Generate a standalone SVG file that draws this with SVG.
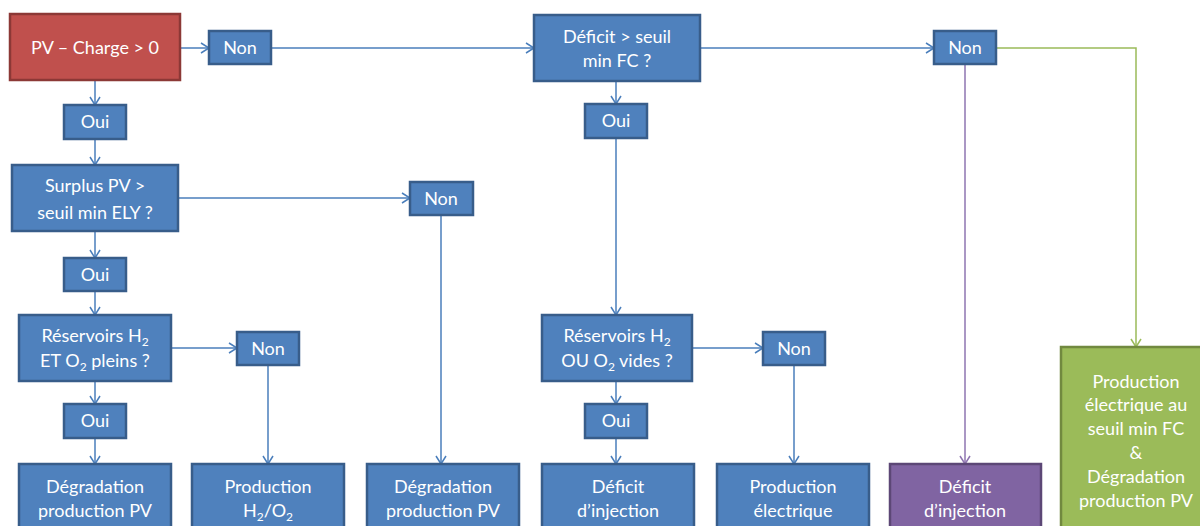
<svg xmlns="http://www.w3.org/2000/svg" width="1200" height="526" viewBox="0 0 1200 526">
<style>
.b{fill:#4F81BD;stroke:#385D8A;stroke-width:2.5}
.r{fill:#C0504D;stroke:#8C3836;stroke-width:2.5}
.p{fill:#8064A2;stroke:#5C4776;stroke-width:2.5}
.g{fill:#9BBB59;stroke:#71893F;stroke-width:2.5}
text{font-family:"Lato","Liberation Sans",sans-serif;font-size:18px;fill:#FFFFFF;text-anchor:middle}
.cb{fill:none;stroke:#4A7EBB;stroke-width:1.5}
.cp{fill:none;stroke:#8E74B0;stroke-width:1.5}
.cg{fill:none;stroke:#9BBB59;stroke-width:1.5}
</style>
<defs>
<marker id="ab" viewBox="0 0 10 12" refX="9" refY="6" markerWidth="10" markerHeight="12" markerUnits="userSpaceOnUse" orient="auto"><path d="M1,1 L9,6 L1,11" fill="none" stroke="#4A7EBB" stroke-width="1.5"/></marker>
<marker id="ap" viewBox="0 0 10 12" refX="9" refY="6" markerWidth="10" markerHeight="12" markerUnits="userSpaceOnUse" orient="auto"><path d="M1,1 L9,6 L1,11" fill="none" stroke="#8E74B0" stroke-width="1.5"/></marker>
<marker id="ag" viewBox="0 0 10 12" refX="9" refY="6" markerWidth="10" markerHeight="12" markerUnits="userSpaceOnUse" orient="auto"><path d="M1,1 L9,6 L1,11" fill="none" stroke="#9BBB59" stroke-width="1.5"/></marker>
</defs>
<g id="connectors">
<path class="cb" marker-end="url(#ab)" d="M95,80 V105"/>
<path class="cb" marker-end="url(#ab)" d="M180,48 H209"/>
<path class="cb" marker-end="url(#ab)" d="M95,139 V165"/>
<path class="cb" marker-end="url(#ab)" d="M178,198 H410"/>
<path class="cb" marker-end="url(#ab)" d="M95,231 V258"/>
<path class="cb" marker-end="url(#ab)" d="M95,291 V315"/>
<path class="cb" marker-end="url(#ab)" d="M171,348 H237"/>
<path class="cb" marker-end="url(#ab)" d="M95,381 V404"/>
<path class="cb" marker-end="url(#ab)" d="M95,438 V464"/>
<path class="cb" marker-end="url(#ab)" d="M268,365 V464"/>
<path class="cb" marker-end="url(#ab)" d="M441,215 V464"/>
<path class="cb" marker-end="url(#ab)" d="M271,48 H534"/>
<path class="cb" marker-end="url(#ab)" d="M616,81 V104"/>
<path class="cb" marker-end="url(#ab)" d="M616,138 V315"/>
<path class="cb" marker-end="url(#ab)" d="M692,348 H763"/>
<path class="cb" marker-end="url(#ab)" d="M616,381 V404"/>
<path class="cb" marker-end="url(#ab)" d="M616,438 V464"/>
<path class="cb" marker-end="url(#ab)" d="M794,365 V464"/>
<path class="cb" marker-end="url(#ab)" d="M700,48 H934"/>
<path class="cp" marker-end="url(#ap)" d="M965,64 V464"/>
<path class="cg" marker-end="url(#ag)" d="M996,48 H1136 V347"/>
</g>
<g id="pv-charge"><rect class="r" x="10" y="14" width="170" height="66"/><text x="95" y="54">PV – Charge &gt; 0</text></g>
<g id="non1"><rect class="b" x="209" y="31" width="62" height="33"/><text x="240" y="54">Non</text></g>
<g id="oui1"><rect class="b" x="64" y="105" width="62" height="34"/><text x="95" y="128">Oui</text></g>
<g id="surplus"><rect class="b" x="12" y="165" width="166" height="66"/><text x="95" y="192">Surplus PV &gt;</text><text x="95" y="219">seuil min ELY ?</text></g>
<g id="non2"><rect class="b" x="410" y="182" width="63" height="33"/><text x="441" y="205">Non</text></g>
<g id="oui2"><rect class="b" x="64" y="258" width="62" height="33"/><text x="95" y="281">Oui</text></g>
<g id="reservoirs1"><rect class="b" x="19" y="315" width="152" height="66"/><text x="95" y="342">Réservoirs H<tspan font-size="12" dy="4">2</tspan></text><text x="95" y="367">ET O<tspan font-size="12" dy="4">2</tspan><tspan dy="-4"> pleins ?</tspan></text></g>
<g id="non3"><rect class="b" x="237" y="332" width="62" height="33"/><text x="268" y="355">Non</text></g>
<g id="oui3"><rect class="b" x="64" y="404" width="62" height="34"/><text x="95" y="427">Oui</text></g>
<g id="degradation1"><rect class="b" x="19" y="464" width="152" height="70"/><text x="95" y="493">Dégradation</text><text x="95" y="517">production PV</text></g>
<g id="production-h2o2"><rect class="b" x="192" y="464" width="152" height="70"/><text x="268" y="493">Production</text><text x="268" y="517">H<tspan font-size="12" dy="4">2</tspan><tspan dy="-4">/O</tspan><tspan font-size="12" dy="4">2</tspan></text></g>
<g id="degradation2"><rect class="b" x="367" y="464" width="152" height="70"/><text x="443" y="493">Dégradation</text><text x="443" y="517">production PV</text></g>
<g id="deficit-seuil"><rect class="b" x="534" y="15" width="166" height="66"/><text x="617" y="43">Déficit &gt; seuil</text><text x="617" y="67">min FC ?</text></g>
<g id="oui4"><rect class="b" x="585" y="104" width="62" height="34"/><text x="616" y="127">Oui</text></g>
<g id="reservoirs2"><rect class="b" x="542" y="315" width="150" height="66"/><text x="617" y="342">Réservoirs H<tspan font-size="12" dy="4">2</tspan></text><text x="617" y="367">OU O<tspan font-size="12" dy="4">2</tspan><tspan dy="-4"> vides ?</tspan></text></g>
<g id="non4"><rect class="b" x="763" y="332" width="62" height="33"/><text x="794" y="355">Non</text></g>
<g id="oui5"><rect class="b" x="585" y="404" width="62" height="34"/><text x="616" y="427">Oui</text></g>
<g id="deficit-injection1"><rect class="b" x="542" y="464" width="152" height="70"/><text x="618" y="493">Déficit</text><text x="618" y="517">d’injection</text></g>
<g id="production-electrique"><rect class="b" x="717" y="464" width="152" height="70"/><text x="793" y="493">Production</text><text x="793" y="517">électrique</text></g>
<g id="non5"><rect class="b" x="934" y="31" width="62" height="33"/><text x="965" y="54">Non</text></g>
<g id="deficit-injection2"><rect class="p" x="890" y="464" width="151" height="70"/><text x="965" y="493">Déficit</text><text x="965" y="517">d’injection</text></g>
<g id="production-seuil"><rect class="g" x="1061" y="347" width="150" height="190"/><text x="1136" y="388">Production</text><text x="1136" y="411">électrique au</text><text x="1136" y="435">seuil min FC</text><text x="1136" y="459">&amp;</text><text x="1136" y="483">Dégradation</text><text x="1136" y="507">production PV</text></g>
</svg>
